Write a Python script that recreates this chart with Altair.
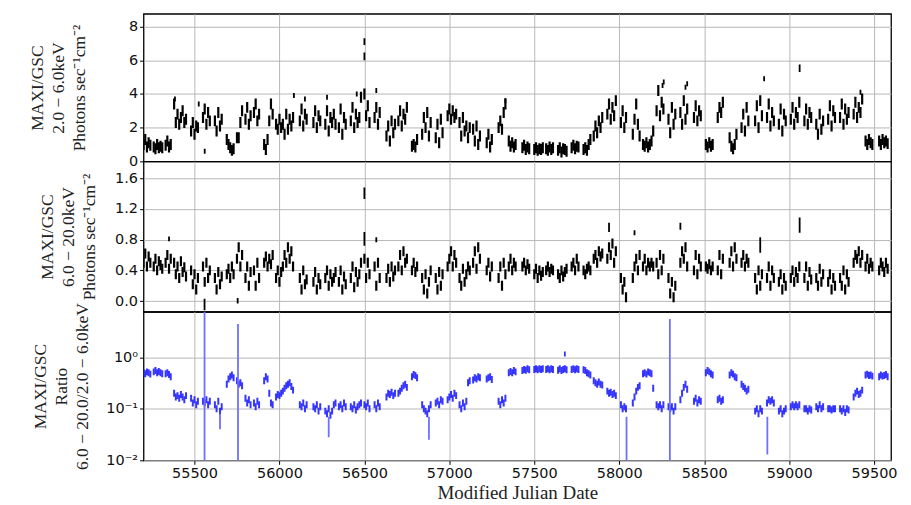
import altair as alt
import pandas as pd

# ---------------- data (10-day bins starting at MJD 55200, one row = 100 days) -------------
BIN_START = 55200
BIN_DAYS = 10

soft_rows = [
    [1.0, 1.3, 0.85, 1.1, 0.95, None, 0.85, 0.75, 1.0, 0.8],
    [0.9, 0.8, None, 0.95, 1.2, 0.85, 1.0, None, 3.4, 2.3],
    [2.8, 2.2, 2.6, 3.0, 2.3, 2.5, None, None, 1.8, 2.3],
    [1.6, 2.1, 2.0, None, None, 2.6, 3.1, 2.2, 2.9, 2.4],
    [None, None, 2.4, 1.8, 2.9, 2.1, 2.5, None, None, 1.3],
    [1.0, 0.8, 0.65, 0.75, None, 1.4, 1.4, 2.3, 3.0, None],
    [2.5, 3.2, 2.2, 2.7, None, 2.9, 3.4, 2.4, 2.8, None],
    [None, 1.0, 0.7, 1.3, 2.4, 3.4, 2.8, None, 2.2, 1.9],
    [2.5, 2.0, 2.2, 1.6, 2.8, 1.9, 2.5, 2.1, 2.6, None],
    [None, None, 2.4, 3.1, 2.1, 2.8, 2.5, None, None, None],
    [2.3, 3.0, 2.0, 2.7, 2.4, None, None, 2.2, 3.0, 1.8],
    [2.6, 2.3, 2.8, 2.2, None, 2.0, 3.1, 1.6, 2.6, 2.2],
    [None, None, 2.4, 3.2, 2.0, 2.8, 2.3, 2.6, 3.8, None],
    [4.0, 2.7, 3.3, 2.3, None, None, 2.6, 3.2, 2.2, 2.9],
    [None, None, None, 1.5, 2.1, 1.2, 2.4, 1.7, 2.2, None],
    [2.4, 3.0, 2.1, 2.8, 2.5, 3.2, None, None, 0.9, 1.0],
    [0.85, 1.3, None, None, 1.6, 2.6, 2.0, 2.9, 1.5, 2.3],
    [None, None, 1.4, 2.2, 1.1, 2.5, 1.7, None, None, 2.7],
    [3.1, 2.5, 3.0, 2.6, 2.8, None, 2.3, 1.5, 2.6, 1.8],
    [2.1, 1.4, 2.0, None, 1.9, 1.2, 2.1, 1.0, 1.5, None],
    [None, None, 1.1, 1.6, 0.85, 1.3, None, None, None, 2.0],
    [2.4, 1.9, 2.9, 3.4, None, 1.2, 0.9, 1.1, 0.85, 1.0],
    [None, None, None, 0.8, 0.95, 0.7, 0.85, 0.75, None, None],
    [0.7, 0.8, 0.65, 0.75, 0.7, 0.8, None, 0.75, 0.65, 0.85],
    [0.7, 0.8, None, None, 0.65, 0.8, 0.55, 0.75, 0.7, 0.6],
    [None, None, 0.8, 0.95, 0.75, 0.9, 0.85, None, None, 0.7],
    [0.8, 0.65, 1.0, 1.3, None, 1.5, 2.1, 1.7, 2.4, 2.0],
    [2.6, None, None, 2.8, 3.4, 2.5, 3.2, 2.7, 3.6, None],
    [None, 2.3, 3.0, 2.0, 2.6, None, None, None, 1.6, 2.5],
    [3.4, 2.2, 1.5, None, 1.0, 0.9, 1.1, 0.85, 1.0, 1.2],
    [1.8, None, 3.0, 4.2, 2.7, 3.5, 3.1, None, None, 2.5],
    [1.7, 3.2, 2.2, 2.8, None, None, 2.9, 2.2, 3.6, 2.5],
    [3.1, None, None, None, 2.6, 3.3, 2.4, 3.0, 2.7, None],
    [None, 1.0, 0.85, 1.1, 0.9, 1.0, None, None, 2.6, 3.2],
    [2.9, 3.5, None, None, None, 1.4, 0.9, 0.75, 1.0, 1.6],
    [None, None, 2.0, 2.8, 1.8, 3.2, 2.4, None, None, None],
    [2.4, 3.3, 2.0, 3.6, 2.7, None, None, 2.6, 3.4, 2.1],
    [2.9, 2.4, None, None, 2.2, 3.1, 1.8, 2.8, 2.4, None],
    [None, 2.5, 3.2, 2.2, 2.9, 2.6, 3.5, None, None, 2.4],
    [3.1, 2.2, 2.9, 2.6, None, None, 2.2, 1.6, 2.8, 1.9],
    [2.4, None, None, 2.5, 3.3, 2.1, 3.0, 2.6, None, None],
    [2.6, 3.4, 2.2, 3.1, 2.5, 2.9, None, None, 2.8, 3.5],
    [2.6, 3.2, 2.9, 3.7, None, 1.2, 1.0, 1.3, 1.1, 1.0],
    [None, None, None, 1.2, 1.0, 1.3, 1.1, 1.2, 1.05, None],
]

hard_rows = [
    [0.5, 0.62, 0.45, 0.58, 0.5, None, 0.45, 0.55, 0.4, 0.52],
    [0.47, 0.42, None, 0.5, 0.6, 0.42, 0.55, None, 0.5, 0.35],
    [0.45, 0.3, 0.52, 0.38, 0.44, 0.32, None, None, 0.4, 0.22],
    [0.35, 0.15, 0.3, None, None, 0.45, 0.25, 0.5, 0.3, 0.4],
    [None, None, 0.3, 0.15, 0.38, 0.22, 0.32, None, None, 0.35],
    [0.42, 0.3, 0.45, 0.35, None, 0.55, 0.7, 0.45, 0.6, None],
    [0.3, 0.45, 0.2, 0.38, None, 0.4, 0.2, 0.5, 0.3, None],
    [None, 0.5, 0.58, 0.45, 0.55, 0.48, 0.6, None, 0.3, 0.4],
    [0.25, 0.38, 0.45, 0.6, 0.5, 0.7, 0.55, 0.65, 0.45, None],
    [None, None, 0.3, 0.15, 0.4, 0.22, 0.28, None, None, None],
    [0.25, 0.38, 0.15, 0.3, 0.22, None, None, 0.3, 0.4, 0.2],
    [0.35, 0.25, 0.3, 0.38, None, 0.25, 0.4, 0.15, 0.32, 0.22],
    [None, None, 0.3, 0.45, 0.18, 0.38, 0.25, 0.35, 0.5, None],
    [0.55, 0.3, 0.5, 0.35, None, None, 0.45, 0.2, 0.5, 0.3],
    [None, None, None, 0.3, 0.42, 0.25, 0.45, 0.32, 0.4, None],
    [0.45, 0.6, 0.4, 0.65, 0.5, 0.55, None, None, 0.4, 0.5],
    [0.38, 0.45, None, None, 0.3, 0.15, 0.35, 0.1, 0.25, 0.4],
    [None, None, 0.3, 0.15, 0.38, 0.2, 0.35, None, None, 0.45],
    [0.55, 0.65, 0.45, 0.6, 0.5, None, 0.3, 0.2, 0.42, 0.25],
    [0.35, 0.45, 0.4, None, 0.5, 0.65, 0.42, 0.7, 0.55, None],
    [None, None, 0.4, 0.5, 0.32, 0.45, None, None, None, 0.3],
    [0.45, 0.2, 0.5, 0.35, None, 0.45, 0.55, 0.4, 0.5, 0.45],
    [None, None, None, 0.45, 0.5, 0.4, 0.48, 0.42, None, None],
    [0.35, 0.42, 0.3, 0.4, 0.33, 0.38, None, 0.4, 0.45, 0.38],
    [0.42, 0.4, None, None, 0.35, 0.3, 0.4, 0.32, 0.38, 0.42],
    [None, None, 0.45, 0.5, 0.4, 0.55, 0.45, None, None, 0.4],
    [0.35, 0.42, 0.45, 0.4, None, 0.55, 0.6, 0.5, 0.65, 0.58],
    [0.62, None, None, 0.55, 0.7, 0.6, 0.75, 0.5, 0.65, None],
    [None, 0.3, 0.15, 0.25, 0.05, None, None, None, 0.3, 0.45],
    [0.55, 0.4, 0.6, None, 0.45, 0.55, 0.4, 0.5, 0.45, 0.5],
    [0.45, None, 0.5, 0.35, 0.6, 0.4, 0.55, None, None, 0.3],
    [0.1, 0.25, 0.05, 0.2, None, None, 0.5, 0.65, 0.55, 0.7],
    [0.45, None, None, None, 0.4, 0.6, 0.35, 0.55, 0.45, None],
    [None, 0.45, 0.42, 0.48, 0.4, 0.45, None, None, 0.4, 0.6],
    [0.35, 0.55, None, None, None, 0.5, 0.65, 0.45, 0.7, 0.55],
    [None, None, 0.5, 0.6, 0.45, 0.55, 0.5, None, None, None],
    [0.3, 0.15, 0.4, 0.2, 0.35, None, None, 0.3, 0.45, 0.2],
    [0.4, 0.3, None, None, 0.25, 0.35, 0.15, 0.3, 0.2, None],
    [None, 0.3, 0.4, 0.25, 0.38, 0.3, 0.45, None, None, 0.3],
    [0.45, 0.2, 0.38, 0.28, None, None, 0.3, 0.2, 0.42, 0.25],
    [0.35, None, None, 0.25, 0.35, 0.15, 0.3, 0.2, None, None],
    [0.3, 0.2, 0.4, 0.15, 0.35, 0.25, None, None, 0.5, 0.6],
    [0.55, 0.65, 0.5, 0.6, None, 0.45, 0.55, 0.42, 0.5, 0.45],
    [None, None, None, 0.4, 0.5, 0.45, 0.38, 0.5, 0.42, None],
]

ratio_rows = [
    [0.5, 0.48, 0.52, 0.5, 0.47, None, 0.52, 0.55, 0.5, 0.53],
    [0.5, 0.48, None, 0.48, 0.5, 0.46, 0.42, None, 0.2, 0.17],
    [0.18, 0.16, 0.19, 0.17, 0.15, 0.18, None, None, 0.16, 0.13],
    [0.15, 0.12, 0.14, None, None, 0.14, 0.13, 0.15, 0.12, 0.14],
    [None, None, 0.12, 0.1, 0.14, 0.09, 0.11, None, None, 0.3],
    [0.38, 0.42, 0.45, 0.4, None, 0.35, 0.3, 0.32, 0.28, None],
    [0.16, 0.13, 0.15, 0.12, None, 0.13, 0.11, 0.14, 0.12, None],
    [None, 0.35, 0.42, 0.38, 0.2, 0.13, 0.12, None, 0.17, 0.19],
    [0.18, 0.2, 0.22, 0.25, 0.28, 0.3, 0.32, 0.27, 0.23, None],
    [None, None, 0.12, 0.11, 0.13, 0.1, 0.12, None, None, None],
    [0.11, 0.1, 0.12, 0.09, 0.11, None, None, 0.09, 0.08, 0.1],
    [0.075, 0.09, 0.12, 0.13, None, 0.11, 0.12, 0.1, 0.13, 0.11],
    [None, None, 0.11, 0.1, 0.12, 0.095, 0.11, 0.12, 0.13, None],
    [0.12, 0.11, 0.13, 0.1, None, None, 0.12, 0.1, 0.13, 0.11],
    [None, None, None, 0.17, 0.2, 0.19, 0.21, 0.18, 0.2, None],
    [0.2, 0.22, 0.25, 0.28, 0.3, 0.26, None, None, 0.42, 0.46],
    [0.44, 0.4, None, None, 0.12, 0.1, 0.09, 0.08, 0.1, 0.12],
    [None, None, 0.13, 0.14, 0.12, 0.15, 0.14, None, None, 0.15],
    [0.17, 0.19, 0.16, 0.2, 0.18, None, 0.12, 0.1, 0.13, 0.11],
    [0.14, 0.32, 0.35, None, 0.36, 0.4, 0.38, 0.42, 0.4, None],
    [None, None, 0.38, 0.4, 0.42, 0.37, None, None, None, 0.14],
    [0.12, 0.15, 0.13, 0.16, None, 0.5, 0.53, 0.5, 0.55, 0.52],
    [None, None, None, 0.55, 0.58, 0.56, 0.6, 0.57, None, None],
    [0.58, 0.6, 0.57, 0.6, 0.58, 0.6, None, 0.58, 0.6, 0.57],
    [0.6, 0.58, None, None, 0.56, 0.6, 0.55, 0.58, 0.6, 0.57],
    [None, None, 0.58, 0.6, 0.57, 0.6, 0.58, None, None, 0.57],
    [0.55, 0.5, 0.48, 0.45, None, 0.35, 0.32, 0.3, 0.33, 0.3],
    [0.29, None, None, 0.22, 0.2, 0.21, 0.19, 0.2, 0.18, None],
    [None, 0.12, 0.1, 0.11, 0.1, None, None, None, 0.13, 0.17],
    [0.22, 0.26, 0.28, None, 0.48, 0.5, 0.47, 0.52, 0.5, 0.48],
    [0.25, None, 0.12, 0.11, 0.12, 0.1, 0.12, None, None, 0.11],
    [0.1, 0.11, 0.09, 0.11, None, None, 0.15, 0.2, 0.26, 0.3],
    [0.24, None, None, None, 0.14, 0.16, 0.13, 0.15, 0.14, None],
    [None, 0.5, 0.55, 0.52, 0.48, 0.45, None, None, 0.15, 0.16],
    [0.14, 0.15, None, None, None, 0.45, 0.5, 0.47, 0.42, 0.4],
    [None, None, 0.3, 0.27, 0.25, 0.22, 0.24, None, None, None],
    [0.09, 0.1, 0.08, 0.1, 0.09, None, None, 0.13, 0.15, 0.14],
    [0.15, 0.13, None, None, 0.09, 0.1, 0.08, 0.09, 0.1, None],
    [None, 0.11, 0.12, 0.11, 0.12, 0.11, 0.12, None, None, 0.1],
    [0.1, 0.09, 0.1, 0.095, None, None, 0.11, 0.1, 0.12, 0.1],
    [0.11, None, None, 0.1, 0.1, 0.095, 0.1, 0.1, None, None],
    [0.1, 0.09, 0.1, 0.085, 0.1, 0.095, None, None, 0.17, 0.2],
    [0.22, 0.19, 0.2, 0.23, None, 0.45, 0.47, 0.44, 0.45, 0.43],
    [None, None, None, 0.42, 0.45, 0.43, 0.44, 0.46, 0.42, None],
]

# isolated points and long error bars
soft_out_mjd = [55385, 55525, 55560, 56085, 56150, 56280, 56455, 56570, 57330, 58255, 58262, 58390, 58400, 58853, 59420]
soft_out_val = [3.7, 3.4, 0.6, 3.9, 3.7, 3.8, 4.0, 4.2, 3.6, 4.5, 4.7, 4.4, 4.6, 4.9, 4.1]
soft_bar_mjd = [56500, 56500, 59062]
soft_bar_lo = [6.0, 6.9, 5.3]
soft_bar_hi = [6.45, 7.3, 5.75]

hard_out_mjd = [55350, 56570, 58090]
hard_out_val = [0.81, 0.8, 0.89]
hard_bar_mjd = [56500, 56500, 57940, 58360, 58830, 59062, 55559, 55754]
hard_bar_lo = [1.33, 0.72, 0.9, 0.93, 0.63, 0.89, -0.12, -0.03]
hard_bar_hi = [1.48, 0.9, 1.02, 1.02, 0.83, 1.09, 0.03, 0.04]

ratio_out_mjd = [57680]
ratio_out_val = [1.16]
ratio_bar_mjd = [55559, 55756, 58298, 58043, 58872, 56290, 56880, 55650]
ratio_bar_lo = [0.005, 0.005, 0.005, 0.005, 0.013, 0.028, 0.025, 0.04]
ratio_bar_hi = [10.0, 4.4, 5.5, 0.07, 0.07, 0.07, 0.07, 0.08]

x_ticks = [55500, 56000, 56500, 57000, 57500, 58000, 58500, 59000, 59500]


def binned(rows):
    recs = []
    for r, row in enumerate(rows):
        for c, v in enumerate(row):
            if v is not None:
                recs.append({"mjd": BIN_START + (r * 10 + c) * BIN_DAYS, "v": v})
    return pd.DataFrame(recs)


soft_df = binned(soft_rows)
hard_df = binned(hard_rows)
ratio_df = binned(ratio_rows)

W = 750
SERIF = "Liberation Serif"
SANS = "DejaVu Sans"
GRID = "#b8b8b8"

xscale = alt.Scale(domain=[55200, 59600], nice=False, zero=False)


def xaxis(labels):
    return alt.Axis(values=x_ticks, tickCount=20, labels=labels,
                    title="Modified Julian Date" if labels else None,
                    grid=True, gridColor=GRID, domain=False, tickColor="black",
                    tickSize=4 if labels else 0, labelFont=SANS, labelFontSize=14.5, labelColor="#111",
                    labelOverlap=False,
                    titleFont=SERIF, titleFontSize=19, titleFontWeight="normal", titleColor="#222",
                    titlePadding=4, format="d")


def yaxis(values, title, fmt=None, label_expr=None, title_x=-95):
    kw = dict(values=values, tickCount=20, title=title, grid=True, gridColor=GRID, domain=False,
              tickColor="black", tickSize=4, labelFont=SANS, labelFontSize=14.5, labelColor="#111",
              labelOverlap=False,
              titleFont=SERIF, titleFontSize=17.5, titleFontWeight="normal", titleColor="#222",
              titleLineHeight=21, titleX=title_x)
    if fmt:
        kw["format"] = fmt
    if label_expr:
        kw["labelExpr"] = label_expr
    return alt.Axis(**kw)


def panel(df, out_mjd, out_val, bar_mjd, bar_lo, bar_hi, yscale, yax, color, bar_color, h,
          xlabels=False, opacity=1.0, tsize=10, thick=2.2):
    main = alt.Chart(df).mark_tick(orient="vertical", size=tsize, thickness=thick, color=color,
                                   opacity=opacity, clip=True).encode(
        x=alt.X("mjd:Q", scale=xscale, axis=xaxis(xlabels)),
        y=alt.Y("v:Q", scale=yscale, axis=yax))
    out = alt.Chart(pd.DataFrame({"mjd": out_mjd, "v": out_val})).mark_tick(
        orient="vertical", size=5, thickness=1.8, color=color, opacity=opacity, clip=True).encode(
        x=alt.X("mjd:Q", scale=xscale), y=alt.Y("v:Q", scale=yscale))
    bars = alt.Chart(pd.DataFrame({"mjd": bar_mjd, "lo": bar_lo, "hi": bar_hi})).mark_rule(
        color=bar_color, strokeWidth=1.8, clip=True).encode(
        x=alt.X("mjd:Q", scale=xscale), y=alt.Y("lo:Q", scale=yscale), y2="hi:Q")
    return alt.layer(main, bars, out).properties(width=W, height=h)


p1 = panel(soft_df, soft_out_mjd, soft_out_val, soft_bar_mjd, soft_bar_lo, soft_bar_hi,
           alt.Scale(domain=[0, 8.75], nice=False, zero=False),
           yaxis([0, 2, 4, 6, 8], ["MAXI/GSC", "2.0 \u2212 6.0keV", "Photons sec\u207b\u00b9cm\u207b\u00b2"],
                 fmt="d", title_x=-97),
           "black", "black", 148, tsize=11)

p2 = panel(hard_df, hard_out_mjd, hard_out_val, hard_bar_mjd, hard_bar_lo, hard_bar_hi,
           alt.Scale(domain=[-0.14, 1.82], nice=False, zero=False),
           yaxis([0.0, 0.4, 0.8, 1.2, 1.6], ["MAXI/GSC", "6.0 \u2212 20.0keV", "Photons sec\u207b\u00b9cm\u207b\u00b2"],
                 fmt=".1f", title_x=-87),
           "black", "black", 151, tsize=10)

p3 = panel(ratio_df, ratio_out_mjd, ratio_out_val, ratio_bar_mjd, ratio_bar_lo, ratio_bar_hi,
           alt.Scale(type="log", domain=[0.01, 7.6], nice=False),
           yaxis([0.01, 0.1, 1], ["MAXI/GSC", "Ratio", "6.0 \u2212 20.0/2.0 \u2212 6.0keV"],
                 label_expr="datum.value >= 1 ? '10\u2070' : (datum.value >= 0.1 ? '10\u207b\u00b9' : '10\u207b\u00b2')",
                 title_x=-94),
           "#2020ff", "#7070ff", 149, xlabels=True, opacity=0.9, tsize=7, thick=2.0)

chart = alt.vconcat(p1, p2, p3, spacing=0, bounds="flush").properties(
    padding={"left": 20, "top": 4, "right": 5, "bottom": 5}
).configure_view(stroke="black", strokeWidth=1.3)

chart.save("out.html", embed_options={"renderer": "svg", "actions": False})
